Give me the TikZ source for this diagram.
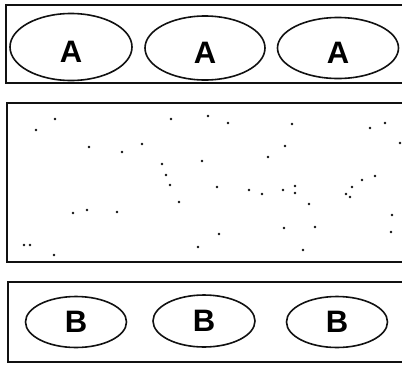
\documentclass[tikz,border=0pt]{standalone}
\usepackage{fontspec}
\setsansfont{Liberation Sans}
\usetikzlibrary{shapes.geometric}
\definecolor{ink}{HTML}{111111}
\newcommand{\lowered}[1]{\raisebox{-5pt}[\height][\depth]{#1}}
\tikzset{
  panel/.style={draw=ink,line width=2.8pt},
  cell/.style={ellipse,draw=ink,line width=1.6pt,inner sep=0pt,
               font=\sffamily\bfseries\fontsize{31}{31}\selectfont},
  speck/.style={circle,fill=ink,inner sep=0pt,minimum size=2.6pt}
}

\begin{document}
\begin{tikzpicture}[x=1pt,y=-1pt]
  \useasboundingbox (0,0) rectangle (402,365);
  \clip (0,0) rectangle (402,365);
  % three panels, open on the right
  \draw[panel] (6,5) rectangle (420,83);
  \draw[panel] (7,103) rectangle (420,262);
  \draw[panel] (8,282) rectangle (420,362);

  % top row
  \node[cell,minimum width=122pt,minimum height=67pt] (a1) at (71,47) {\lowered{A}};
  \node[cell,minimum width=120pt,minimum height=64pt] (a2) at (205,48) {\lowered{A}};
  \node[cell,minimum width=121pt,minimum height=61pt] (a3) at (338,48) {\lowered{A}};

  % bottom row
  \node[cell,minimum width=101pt,minimum height=51pt] (b1) at (76,322) {B};
  \node[cell,minimum width=102pt,minimum height=52pt] (b2) at (204,321) {B};
  \node[cell,minimum width=101pt,minimum height=51pt] (b3) at (337,322) {B};

  % specks in the middle panel
  \foreach \x/\y in {55/119,36/130,171/119,208/116,228/123,292/124,370/128,
                     385/123,89/147,122/152,142/144,285/146,268/157,202/161,
                     162/164,166/175,170/185,217/187,249/190,262/194,283/190,
                     295/186,295/193,309/204,346/194,350/197,352/187,362/180,
                     375/176,179/202,73/213,87/210,117/212,392/215,284/228,
                     315/227,219/234,391/232,30/245,24/245,198/247,54/255,
                     303/250,400/143}
    \node[speck] at (\x,\y) {};
\end{tikzpicture}
\end{document}
